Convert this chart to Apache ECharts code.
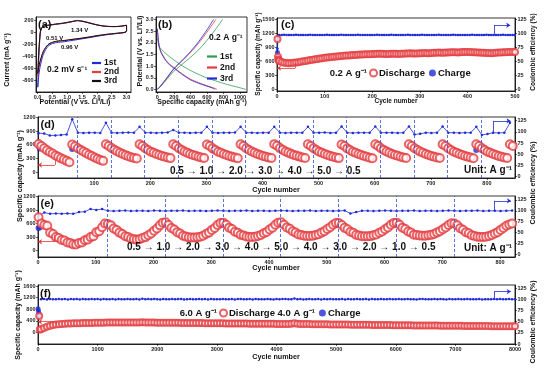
<!DOCTYPE html>
<html><head><meta charset="utf-8">
<script src="https://cdn.jsdelivr.net/npm/echarts@6/dist/echarts.min.js"></script>
<style>html,body{margin:0;padding:0;background:#fff}#c{width:554px;height:377px}</style>
</head><body><div id="c"></div><script>
// ---------- DATA ----------
// (a) cyclic voltammetry [potential V, current mA/g], loop order
const cv1st = [[0.01,-920],[0.03,-620],[0.06,-280],[0.1,0],[0.15,70],[0.2,92],[0.3,105],[0.5,120],[0.7,132],[0.9,146],[1.1,165],[1.25,182],[1.34,192],[1.45,188],[1.6,172],[1.8,146],[2.0,120],[2.2,102],[2.4,92],[2.6,90],[2.8,96],[2.95,108],[3.0,110],[3.0,15],[2.95,-8],[2.8,-18],[2.6,-30],[2.4,-42],[2.2,-56],[2.0,-72],[1.8,-90],[1.6,-106],[1.4,-122],[1.2,-138],[1.05,-150],[0.96,-158],[0.85,-165],[0.7,-172],[0.6,-180],[0.51,-192],[0.42,-212],[0.35,-240],[0.28,-290],[0.2,-370],[0.14,-470],[0.08,-600],[0.04,-740],[0.01,-920]];
const cv2nd = [[0.01,-740],[0.03,-480],[0.06,-210],[0.1,15],[0.15,72],[0.2,92],[0.3,106],[0.5,122],[0.7,136],[0.9,150],[1.1,170],[1.25,185],[1.34,192],[1.45,186],[1.6,170],[1.8,145],[2.0,120],[2.2,102],[2.4,93],[2.6,91],[2.8,97],[2.95,110],[3.0,112],[3.0,22],[2.95,-3],[2.8,-14],[2.6,-24],[2.4,-34],[2.2,-47],[2.0,-60],[1.8,-78],[1.6,-93],[1.4,-108],[1.2,-120],[1.05,-130],[0.96,-137],[0.85,-142],[0.7,-148],[0.6,-158],[0.51,-170],[0.42,-188],[0.35,-212],[0.28,-255],[0.2,-325],[0.14,-410],[0.08,-520],[0.04,-620],[0.01,-740]];
const cv3rd = [[0.01,-690],[0.03,-450],[0.06,-200],[0.1,20],[0.15,75],[0.2,95],[0.3,108],[0.5,125],[0.7,138],[0.9,150],[1.1,168],[1.25,182],[1.34,188],[1.45,182],[1.6,168],[1.8,142],[2.0,118],[2.2,100],[2.4,92],[2.6,90],[2.8,96],[2.95,108],[3.0,110],[3.0,20],[2.95,-5],[2.8,-15],[2.6,-25],[2.4,-35],[2.2,-48],[2.0,-62],[1.8,-80],[1.6,-95],[1.4,-110],[1.2,-122],[1.05,-132],[0.96,-140],[0.85,-145],[0.7,-150],[0.6,-160],[0.51,-172],[0.42,-190],[0.35,-215],[0.28,-255],[0.2,-320],[0.14,-400],[0.08,-500],[0.04,-590],[0.01,-690]];
// (b) galvanostatic profiles [capacity mAh/g, potential V]
const gdDis1 = [[0,2.2],[20,1.85],[50,1.72],[100,1.55],[150,1.4],[200,1.27],[300,1.02],[400,0.82],[500,0.65],[600,0.5],[700,0.38],[800,0.27],[900,0.17],[1000,0.08],[1070,0.01]];
const gdDis2 = [[0,2.6],[10,2.2],[25,1.82],[50,1.58],[100,1.28],[150,1.08],[200,0.95],[300,0.68],[400,0.45],[500,0.3],[600,0.17],[680,0.08],[720,0.02]];
const gdDis3 = [[0,2.6],[10,2.2],[25,1.8],[50,1.55],[100,1.25],[150,1.05],[200,0.92],[300,0.65],[400,0.42],[500,0.27],[600,0.15],[650,0.09],[700,0.02]];
const gdChg1 = [[0,0.01],[30,0.1],[100,0.38],[200,0.78],[300,1.08],[400,1.38],[500,1.7],[600,2.1],[700,2.55],[790,3.0]];
const gdChg2 = [[0,0.01],[30,0.12],[100,0.42],[200,0.88],[300,1.22],[400,1.58],[500,1.98],[600,2.45],[700,2.95],[710,3.0]];
const gdChg3 = [[0,0.01],[30,0.12],[100,0.43],[200,0.9],[300,1.25],[400,1.62],[500,2.05],[600,2.55],[680,3.0]];
// (c) 0.2 A/g cycling
const cEarlyCycles = [1,2,3,4];
const cEarlyDis = [1080,700,640,620];
const cEarlyCE = [73,90,95,97];
const cChgCycles = [1,2];
const cChg = [790,690];
const cDis = [610,585,570,562,560,562,568,575,583,592,600,610,618,627,635,645,652,660,668,675,682,688,694,700,705,710,715,720,724,728,732,735,738,742,745,748,750,752,755,757,760,762,764,763,760,758,760,762,765,763,760,762,765,768,770,772,770,768,770,772,775,778,776,774,778,782,785,788,786,784,788,792,795,797,795,792,795,798,800,802,800,797,795,792,788,785,782,780,778,776,780,784,788,792,795,797,799,800,802,803]; // cycles 5..500 step 5
const cCE = [97.6,97.4,97.8,97.5,97.7,97.3,97.6,97.8,97.5,97.4,97.7,97.5,97.6,97.8,97.4,97.6,97.5,97.7,97.3,97.6,97.8,97.5,97.6,97.4,97.7,97.5,97.8,97.6,97.4,97.5,97.7,97.6,97.5,97.8,97.4,97.6,97.7,97.5,97.6,97.3,97.6,97.8,97.5,97.7,97.4,97.6,97.5,97.8,97.6,97.4,97.5,97.7,97.6,97.5,97.8,97.4,97.6,97.7,97.5,97.6,97.8,97.5,97.4,97.6,97.7,97.5,97.6,97.8,97.4,97.5,97.7,97.6,97.5,97.8,97.6,97.4,97.6,97.7,97.5,97.6,97.5,97.8,97.6,97.4,97.7,97.5,97.6,97.8,97.5,97.4,97.6,97.7,97.5,97.6,97.8,97.4,97.6,97.5,97.7,97.6]; // cycles 5..500 step 5
// (d) repeated rate test, discharge every 5 cycles from cycle 1
const dDis = [620,575,525,480,445,410,370,340,305,280,250,220,
 610,570,525,490,455,420,385,355,325,295,270,250,
 615,575,530,495,460,430,400,375,350,330,315,300,
 612,576,527,488,452,427,401,379,358,340,323,310,
 615,578,528,490,455,430,402,380,360,342,325,312,
 610,574,524,486,450,426,399,377,356,338,321,308,
 614,577,527,489,454,429,401,379,359,341,324,311,
 616,579,529,491,456,431,403,381,361,343,326,314,
 612,575,525,487,452,427,400,378,357,339,322,310,
 610,574,523,486,450,426,399,377,356,340,320,309,
 614,578,528,490,455,430,402,380,360,342,325,312,
 613,576,526,488,453,428,401,379,358,340,323,311,
 611,575,525,487,451,427,400,378,357,339,322,309,
 612,576,526,488,452,428,401,379,358,341,324,312,
 615,578];
const dChgCycles = [1,3,61,781];
const dChg = [600,520,510,490];
const dCE = [97,96,92,92,93,94,128,98,97.5,98,98,97.5,120,98,97.5,98,98.5,98,111,98,98,97.5,98,98.5,104,98,98,97.5,98,98,111,98,97.5,98,98,98.5,111,98,98,97.5,98,98,111,98,97.5,98,98,98,111,98,98,98.5,97.5,98,112,98,97.5,98,98,98,112,98,98,98,97.5,98,112,94,95.5,98,97.5,98,112,98,98,97.5,98,98,111,93,95,98,97.5,98,120]; // cycles 1..841 step 10
const dDashCycles = [70,130,190,250,310,370,430,490,550,610,670,730,790];
// (e) symmetric rate test, discharge every 5 cycles from cycle 1
const eDis = [740,600,570,550,400,370,300,280,235,225,180,170,140,135,170,180,230,245,300,320,410,430,520,600,
 590,565,490,460,400,370,320,300,270,255,245,255,280,300,340,380,440,490,560,620,
 630,570,500,470,410,380,330,315,295,290,290,295,310,330,370,400,460,500,570,610,
 620,575,510,480,420,395,350,335,315,305,305,310,325,345,385,415,470,510,575,620,
 630,575,515,485,430,400,360,345,330,325,325,330,345,365,400,430,480,520,575,610,
 610,570,505,475,420,395,350,335,320,318,318,322,340,360,395,425,475,515,575,615,
 620,575,510,480,425,400,355,345,335,330,332,340,350,370,400,430,475,515,570,605,
 600,560,495,465,410,385,340,325,310,305,305,310,325,345,380,410,460,500,550,580,600];
const eChgCycles = [1,3];
const eChg = [500,520];
const eCE = [88,96,93,94,93,94,93,97,98,104,102,104,100,99.5,100,100.5,99.5,100,100,99.5,100.5,100,99.5,100,100,100.5,99.5,100,100,99.5,100,100.5,100,99.5,100,100,100.5,99.5,100,100,99.5,100,100.5,100,99.5,100,100,100.5,99.5,100,100,99.5,100,100.5,94,97,100,100,99.5,100,100.5,100,99.5,100,100,100.5,99.5,100,100,99.5,100,100.5,100,99.5,100,100,100.5,99.5,100,100,99.5,100,100.5]; // cycles 1..821 step 10
const eDashCycles = [120,220,320,420,520,620,720];
// (f) long cycling, every 50 cycles from 50
const fEarlyCycles = [20,30];
const fEarlyDis = [570,110];
const fChgCycles = [1,8,15,22,30];
const fChg = [820,740,660,560,90];
const fDis = [120,160,200,235,258,275,288,297,304,310,314,318,321,325,328,330,333,335,338,340,341,343,344,345,346,347,348,349,350,350,351,350,352,349,357,352,348,346,345,343,342,341,340,339,338,337,336,335,334,332,331,330,329,328,327,326,325,323,322,320,319,318,317,316,315,314,313,312,311,310,309,308,307,306,305,304,303,302,301,300,300,299,298,300,302,318,305,298,296,295,294,292,291,289,288,286,285,283,282,280,279,278,276,275,274,273,272,270,269,268,267,266,265,263,262,261,260,258,257,255,254,253,252,251,250,249,248,247,246,245,244,243,242,241,240,239,238,237,236,235,234,233,232,231,230,229,228,227,226,225,224,223,222,221,220,219,218,217,216,215];
const fCE = [99.8,100.3,99.6,100.5,100.1,99.7,100.4,99.9,100.6,99.5,100.2,99.8,100.5,99.6,100.3,100.0,99.7,100.4,99.9,100.2,99.6,100.5,100.1,99.8,100.3,99.5,100.4,100.0,99.7,100.6,100.1,99.8,100.4,99.6,101.2,99.9,100.3,99.7,100.5,100.0,99.6,100.3,100.1,99.8,100.4,99.7,100.2,100.5,99.6,100.0,100.3,99.7,100.1,100.4,99.8,100.2,99.6,100.5,99.9,100.1,99.7,100.4,100.0,99.8,100.3,99.6,100.2,100.5,99.8,100.0,100.2,99.6,100.4,99.9,100.1,99.7,100.3,100.0,99.6,100.4,99.8,100.2,100.5,99.7,100.1,101.5,99.8,100.3,99.6,100.1,100.4,99.8,100.0,100.3,99.6,100.2,99.9,100.5,99.7,100.1,99.9,100.3,99.6,100.2,100.0,99.8,100.4,99.7,100.1,100.3,99.6,100.2,100.0,99.8,100.5,99.7,100.1,100.3,99.9,100.0,100.3,99.7,100.1,100.4,99.8,100.0,99.6,100.2,100.5,99.9,99.8,100.1,100.4,99.7,100.2,100.0,99.6,100.3,99.9,100.1,100.2,99.8,100.0,100.4,99.7,100.1,99.9,100.3,99.6,100.0,100.1,99.7,100.3,99.9,100.2,99.8,100.0,100.4,99.7,100.1];
// tick values
const aXTicks = [0,0.5,1,1.5,2,2.5,3], aYTicks = [-800,-600,-400,-200,0,200];
const bXTicks = [0,200,400,600,800,1000], bYTicks = [0,0.5,1,1.5,2,2.5,3];
const cXTicks = [0,100,200,300,400,500], cYTicks = [0,300,600,900,1200,1500];
const ceTicks = [0,25,50,75,100,125];
const dXTicks = [100,200,300,400,500,600,700,800], eXTicks = [0,100,200,300,400,500,600,700,800];
const deYTicks = [0,300,600,900,1200];
const fXTicks = [0,1000,2000,3000,4000,5000,6000,7000,8000], fYTicks = [0,400,800,1200,1600];

// ---------- CHART ----------
const RED = '#e33b3f', BLUE = '#1f2ad8', GREEN = '#2c9c52', BLACK = '#111';
const FF = '"Liberation Sans", Arial, Helvetica, sans-serif';
const pairs = (xs, ys) => ys.map((v, i) => [xs[i], v]);
const seq = (start, step, ys) => ys.map((v, i) => [start + i * step, v]);

function grid(l, t, w, h) { return { left: l, top: t, width: w, height: h, show: true, borderColor: '#000', borderWidth: 0.8 }; }
function axis(kind, gi, min, max, ticks, fmt, pos) {
  return { type: 'value', gridIndex: gi, min, max, position: pos,
    axisLine: { show: true, onZero: false, lineStyle: { color: '#000', width: 0.8 } },
    axisTick: { show: true, length: 2, customValues: ticks, lineStyle: { color: '#000', width: 0.6 } },
    axisLabel: { customValues: ticks, fontSize: 5.5, fontWeight: 'bold', color: '#222', margin: 2.5, fontFamily: FF, formatter: fmt || (v => String(v)) },
    splitLine: { show: false } };
}
function T(x, y, text, size, o) {
  o = o || {};
  return { type: 'text', x, y, rotation: o.rot || 0, silent: true, z: 100,
    style: { text, fontSize: size, fontWeight: o.w || 'bold', fontFamily: FF, fill: o.c || '#111', align: o.a || 'left', verticalAlign: 'middle' } };
}
const arrowStyle = (c) => ({ color: c, width: 0.8, type: 'solid' });
function elbow(p1, p2, p3, c) {
  return [
    [{ coord: p1, symbol: 'none', lineStyle: arrowStyle(c) }, { coord: p2, symbol: 'none' }],
    [{ coord: p2, symbol: 'none', lineStyle: arrowStyle(c) }, { coord: p3, symbol: 'arrow', symbolSize: 4 }]
  ];
}
const dash = (xs) => xs.map(v => ({ xAxis: v, lineStyle: { color: '#2f4fd0', type: [3, 2], width: 0.8 } }));

const lineS = (name, xi, yi, data, color, w) => ({ type: 'line', name, xAxisIndex: xi, yAxisIndex: yi, data, symbol: 'none', smooth: 0.25,
  lineStyle: { color, width: w || 1 }, itemStyle: { color }, silent: true, animation: false });
const ceS = (name, xi, yi, data, ml, size) => ({ type: 'line', name, xAxisIndex: xi, yAxisIndex: yi, data, symbol: 'circle', symbolSize: size || 2.5, showAllSymbol: true,
  lineStyle: { color: BLUE, width: 0.8 }, itemStyle: { color: BLUE }, animation: false, silent: true,
  markLine: { silent: true, symbol: 'none', label: { show: false }, animation: false, data: ml } });
const disS = (name, xi, yi, data, size, ml) => ({ type: 'scatter', name, xAxisIndex: xi, yAxisIndex: yi, data, symbol: 'emptyCircle', symbolSize: size,
  itemStyle: { color: RED, borderColor: RED, borderWidth: 0.8 }, animation: false, silent: true, z: 3,
  markLine: { silent: true, symbol: 'none', label: { show: false }, animation: false, data: ml } });
const chgS = (name, xi, yi, data, size) => ({ type: 'scatter', name, xAxisIndex: xi, yAxisIndex: yi, data, symbol: 'circle', symbolSize: size,
  itemStyle: { color: BLUE }, animation: false, silent: true, z: 2 });

const strip = n => n.split(' ')[0];
const chart = echarts.init(document.getElementById('c'), null, { renderer: 'canvas' });
chart.setOption({
  animation: false,
  backgroundColor: '#fff',
  textStyle: { fontFamily: FF },
  grid: [grid(36, 17, 95, 75), grid(156, 17, 91, 75), grid(277, 18, 238, 73), grid(38, 117, 477, 61), grid(38, 196, 477, 61), grid(38, 285, 477, 59)],
  xAxis: [
    axis('x', 0, -0.05, 3.15, aXTicks, v => v.toFixed(1)),
    axis('x', 1, -16, 1085, bXTicks),
    axis('x', 2, 0, 500, cXTicks),
    axis('x', 3, 0, 850, dXTicks),
    axis('x', 4, 0, 826, eXTicks),
    axis('x', 5, 0, 8000, fXTicks)
  ],
  yAxis: [
    axis('y', 0, -1000, 250, aYTicks),
    axis('y', 1, -0.1, 3.1, bYTicks, v => v.toFixed(1)),
    axis('y', 2, -36, 1530, cYTicks, null, 'left'),
    axis('y', 2, -3, 128, ceTicks, null, 'right'),
    axis('y', 3, -125, 1210, deYTicks, null, 'left'),
    axis('y', 3, -3, 133, ceTicks, null, 'right'),
    axis('y', 4, -140, 1210, deYTicks, null, 'left'),
    axis('y', 4, -6, 134, ceTicks, null, 'right'),
    axis('y', 5, -390, 1635, fYTicks, null, 'left'),
    axis('y', 5, 0, 131.7, ceTicks, null, 'right')
  ],
  legend: [
    { data: ['1st a', '2nd a', '3rd a'], left: 92, top: 58.5, orient: 'vertical', icon: 'rect', itemWidth: 9, itemHeight: 2.2, itemGap: 0, padding: 0,
      selectedMode: false, formatter: strip, textStyle: { fontSize: 8.5, fontWeight: 'bold', lineHeight: 8, color: '#111', padding: [0, 0, 0, -2] } },
    { data: ['1st b', '2nd b', '3rd b'], left: 207, top: 52, orient: 'vertical', icon: 'rect', itemWidth: 10, itemHeight: 2.2, itemGap: 2, padding: 0,
      selectedMode: false, formatter: strip, textStyle: { fontSize: 8.5, fontWeight: 'bold', lineHeight: 9, color: '#111', padding: [0, 0, 0, -2] } },
    { data: [{ name: 'Discharge c', icon: 'emptyCircle' }, { name: 'Charge c', icon: 'circle' }], left: 369, top: 68, itemWidth: 7, itemHeight: 7, itemGap: 4, padding: 0,
      selectedMode: false, formatter: strip, textStyle: { fontSize: 9.5, fontWeight: 'bold', lineHeight: 10, color: '#111', padding: [0, 0, 0, -3] } },
    { data: [{ name: 'Discharge f', icon: 'emptyCircle' }, { name: 'Charge f', icon: 'circle' }], left: 219, top: 308, itemWidth: 7, itemHeight: 7, itemGap: 4, padding: 0,
      selectedMode: false, formatter: n => n === 'Discharge f' ? 'Discharge 4.0 A g⁻¹' : 'Charge', textStyle: { fontSize: 9.5, fontWeight: 'bold', lineHeight: 10, color: '#111', padding: [0, 0, 0, -3] } }
  ],
  series: [
    lineS('1st a', 0, 0, cv1st, BLUE), lineS('2nd a', 0, 0, cv2nd, RED), lineS('3rd a', 0, 0, cv3rd, BLACK),
    lineS('1st b', 1, 1, gdDis1, GREEN, 0.8), lineS('1st b', 1, 1, gdChg1, GREEN, 0.8),
    lineS('2nd b', 1, 1, gdDis2, RED, 0.8), lineS('2nd b', 1, 1, gdChg2, RED, 0.8),
    lineS('3rd b', 1, 1, gdDis3, BLUE, 0.8), lineS('3rd b', 1, 1, gdChg3, BLUE, 0.8),
    // (c)
    ceS('CE c', 2, 3, pairs(cEarlyCycles, cEarlyCE).concat(seq(5, 5, cCE)), elbow([456, 98], [456, 115], [490, 115], BLUE)),
    chgS('Charge c', 2, 2, pairs(cChgCycles, cChg), 5),
    disS('Discharge c', 2, 2, pairs(cEarlyCycles, cEarlyDis).concat(seq(5, 5, cDis)), 6, elbow([38, 565], [38, 455], [0, 455], RED)),
    // (d)
    ceS('CE d', 3, 5, seq(1, 10, dCE), dash(dDashCycles).concat(elbow([812, 98], [812, 124.5], [842, 124.5], BLUE))),
    chgS('Charge d', 3, 4, pairs(dChgCycles, dChg), 6),
    disS('Discharge d', 3, 4, seq(1, 5, dDis), 8, elbow([30, 285], [30, 160], [0, 160], RED)),
    // (e)
    ceS('CE e', 4, 7, seq(1, 10, eCE), dash(eDashCycles).concat(elbow([790, 100], [790, 123], [819, 123], BLUE))),
    chgS('Charge e', 4, 6, pairs(eChgCycles, eChg), 6),
    disS('Discharge e', 4, 6, seq(1, 5, eDis), 8, elbow([29, 350], [29, 198], [0, 198], RED)),
    // (f)
    ceS('CE f', 5, 9, seq(50, 50, fCE), elbow([7650, 100], [7650, 117], [7930, 117], BLUE), 2.5),
    chgS('Charge f', 5, 8, pairs(fChgCycles, fChg), 5),
    disS('Discharge f', 5, 8, pairs(fEarlyCycles, fEarlyDis).concat(seq(50, 50, fDis)), 6, elbow([300, 262], [300, 375], [0, 375], RED))
  ],
  graphic: [
    T(38, 25, '(a)', 11), T(71, 30, '1.34 V', 6), T(46, 38, '0.51 V', 6), T(61, 47, '0.96 V', 6), T(47, 70, '0.2 mV s⁻¹', 8.5),
    T(7, 60, 'Current (mA g⁻¹)', 7, { a: 'center', rot: Math.PI / 2 }), T(75, 102, 'Potential (V vs. Li⁺/Li)', 7, { a: 'center' }),
    T(158, 25, '(b)', 11), T(209, 38, '0.2 A g⁻¹', 8.5),
    T(140, 51, 'Potential (V vs. Li⁺/Li)', 7, { a: 'center', rot: Math.PI / 2 }), T(202, 102, 'Specific capacity (mAh g⁻¹)', 7, { a: 'center' }),
    T(281, 25, '(c)', 11), T(367, 73, '0.2 A g⁻¹', 9.5, { a: 'right' }),
    T(258, 54, 'Specific capacity (mAh g⁻¹)', 6.5, { a: 'center', rot: Math.PI / 2 }),
    T(533, 52, 'Coulombic efficiency (%)', 6.5, { a: 'center', rot: Math.PI / 2 }),
    T(396, 101.5, 'Cycle number', 6.5, { a: 'center' }),
    T(40.5, 125, '(d)', 11), T(40.5, 204, '(e)', 11), T(40, 294, '(f)', 11),
    T(170, 171, '0.5 → 1.0 → 2.0 → 3.0 → 4.0 → 5.0 → 0.5', 10), T(512, 170, 'Unit: A g⁻¹', 10, { a: 'right' }),
    T(127, 247.5, '0.5 → 1.0 → 2.0 → 3.0 → 4.0 → 5.0 → 4.0 → 3.0 → 2.0 → 1.0 → 0.5', 10), T(512, 248, 'Unit: A g⁻¹', 10, { a: 'right' }),
    T(276, 190, 'Cycle number', 7.2, { a: 'center' }), T(276, 268, 'Cycle number', 7.2, { a: 'center' }), T(276, 357, 'Cycle number', 7.2, { a: 'center' }),
    T(20, 176, 'Specific capacity (mAh g⁻¹)', 7.2, { a: 'center', rot: Math.PI / 2 }),
    T(533, 183, 'Coulombic efficiency (%)', 7, { a: 'center', rot: Math.PI / 2 }),
    T(18, 315, 'Specific capacity (mAh g⁻¹)', 7, { a: 'center', rot: Math.PI / 2 }),
    T(533, 322, 'Coulombic efficiency (%)', 7, { a: 'center', rot: Math.PI / 2 }),
    T(217, 313, '6.0 A g⁻¹', 9.5, { a: 'right' })
  ]
});
</script></body></html>
